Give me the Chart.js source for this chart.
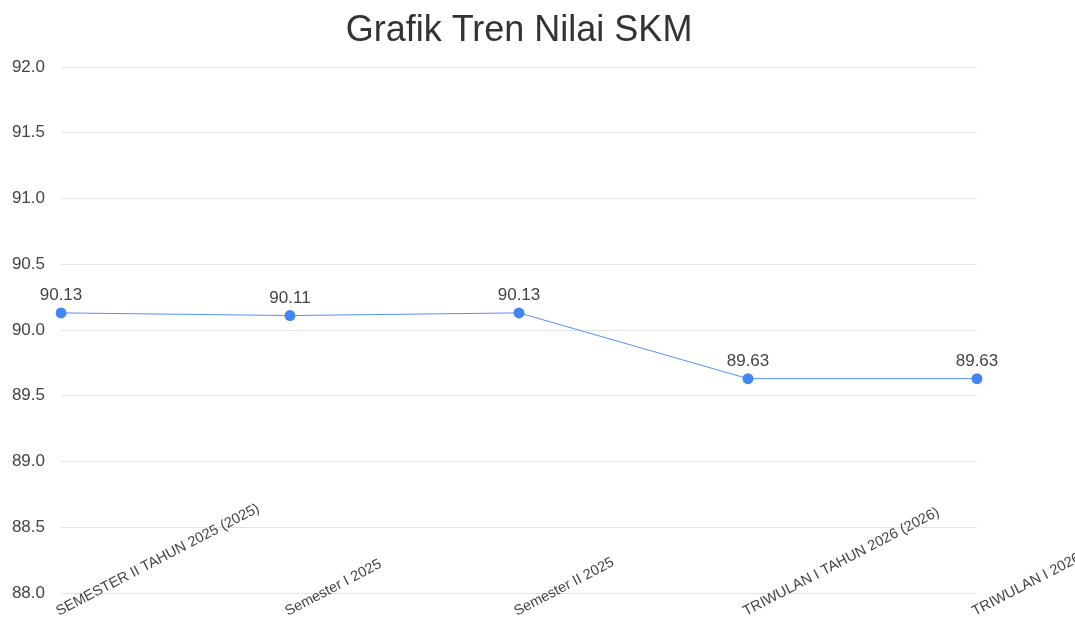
<!DOCTYPE html>
<html>
<head>
<meta charset="utf-8">
<script src="https://cdn.jsdelivr.net/npm/chart.js@4/dist/chart.umd.min.js"></script>
<style>
  html, body { margin: 0; padding: 0; background: #ffffff; }
  #wrap { width: 1075px; height: 620px; position: relative; }
</style>
</head>
<body>
<div id="wrap"><canvas id="c" width="1075" height="620"></canvas></div>
<script>
const titleText = "Grafik Tren Nilai SKM";
const categories = [
  "SEMESTER II TAHUN 2025 (2025)",
  "Semester I 2025",
  "Semester II 2025",
  "TRIWULAN I TAHUN 2026 (2026)",
  "TRIWULAN I 2026"
];
const skmValues = [90.13, 90.11, 90.13, 89.63, 89.63];
const yTickValues = [88.0, 88.5, 89.0, 89.5, 90.0, 90.5, 91.0, 91.5, 92.0];

const FONT = "'Liberation Sans', Arial, sans-serif";

const slantedLabels = {
  id: 'slantedLabels',
  afterDraw(chart) {
    const ctx = chart.ctx;
    const xs = chart.scales.x;
    ctx.save();
    ctx.font = "14.5px " + FONT;
    ctx.fillStyle = "#444444";
    ctx.textAlign = "left";
    ctx.textBaseline = "alphabetic";
    categories.forEach((lab, i) => {
      const x = xs.getPixelForValue(i);
      ctx.save();
      ctx.translate(x - 2, 616);
      ctx.rotate(-27.5 * Math.PI / 180);
      ctx.fillText(lab, 0, 0);
      ctx.restore();
    });
    ctx.restore();
  }
};

const valueLabels = {
  id: 'valueLabels',
  afterDatasetsDraw(chart) {
    const ctx = chart.ctx;
    const meta = chart.getDatasetMeta(0);
    ctx.save();
    ctx.font = "17px " + FONT;
    ctx.fillStyle = "#444444";
    ctx.textAlign = "center";
    ctx.textBaseline = "alphabetic";
    meta.data.forEach((pt, i) => {
      ctx.fillText(skmValues[i].toFixed(2), pt.x, pt.y - 13);
    });
    ctx.restore();
  }
};

new Chart(document.getElementById('c'), {
  type: 'line',
  data: {
    labels: categories,
    datasets: [{
      data: skmValues,
      borderColor: 'rgba(66,133,244,0.9)',
      borderWidth: 1,
      backgroundColor: '#4285f4',
      pointBackgroundColor: '#4285f4',
      pointBorderColor: '#4285f4',
      pointRadius: 5.5,
      pointBorderWidth: 0,
      tension: 0,
      fill: false
    }]
  },
  options: {
    responsive: false,
    animation: false,
    layout: { padding: { left: 0, right: 98, top: 0, bottom: 27 } },
    plugins: {
      legend: { display: false },
      tooltip: { enabled: false },
      title: {
        display: true,
        text: titleText,
        fullSize: false,
        color: '#333333',
        font: { family: FONT, size: 36, weight: 'normal', lineHeight: 1 },
        padding: { top: 13, bottom: 18 }
      }
    },
    scales: {
      x: {
        display: false,
        offset: false
      },
      y: {
        min: 88,
        max: 92,
        afterBuildTicks(scale) {
          scale.ticks = yTickValues.map(v => ({ value: v }));
        },
        afterFit(scale) { scale.width = 61; },
        ticks: {
          color: '#444444',
          font: { family: FONT, size: 17 },
          padding: 16,
          callback: (v) => Number(v).toFixed(1)
        },
        grid: { color: '#e3e3e3', drawTicks: false, lineWidth: 1 },
        border: { display: false }
      }
    }
  },
  plugins: [slantedLabels, valueLabels]
});
</script>
</body>
</html>
